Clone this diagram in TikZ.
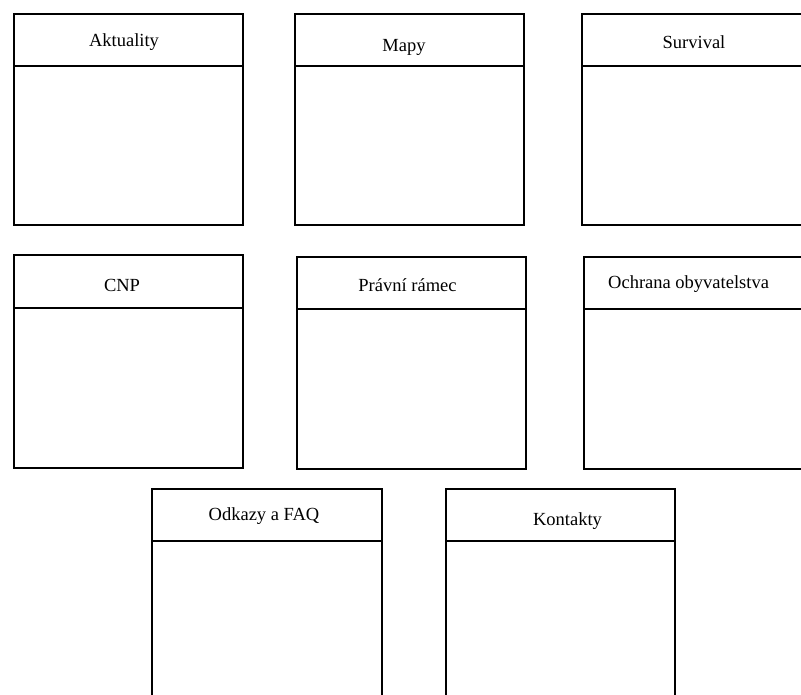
\documentclass[tikz,border=0pt]{standalone}
\usepackage{fontspec}
\setmainfont{Liberation Serif}
\begin{document}
\begin{tikzpicture}[x=1pt,y=-1pt,
  panel/.style={draw=black, line width=2.4pt, fill=white, rectangle,
    inner sep=0pt, outer sep=0pt, anchor=north west},
  title/.style={inner sep=0pt, font=\fontsize{18.5}{22}\selectfont, anchor=base},
  divider/.style={draw=black, line width=2.4pt}]
\useasboundingbox (0,0) rectangle (801,695);
\clip (0,0) rectangle (801,695);

% top row
\node[panel, minimum width=229pt, minimum height=211pt] (p1) at (14,14) {};
\node[panel, minimum width=229pt, minimum height=211pt] (p2) at (295,14) {};
\node[panel, minimum width=229pt, minimum height=211pt] (p3) at (582,14) {};
% middle row
\node[panel, minimum width=229pt, minimum height=213pt] (p4) at (14,255) {};
\node[panel, minimum width=229pt, minimum height=212pt] (p5) at (297,257) {};
\node[panel, minimum width=229pt, minimum height=212pt] (p6) at (584,257) {};
% bottom row
\node[panel, minimum width=230pt, minimum height=230pt] (p7) at (152,489) {};
\node[panel, minimum width=229pt, minimum height=230pt] (p8) at (446,489) {};

% header dividers
\foreach \p/\h in {p1/52, p2/52, p3/52, p4/53, p5/52, p6/52, p7/52, p8/52}
  \draw[divider] ([yshift=-\h pt]\p.north west) -- ([yshift=-\h pt]\p.north east);

% titles
\node[title] (t1) at (124,47) {Aktuality};
\node[title] (t2) at (404,52) {Mapy};
\node[title] (t3) at (694,49) {Survival};
\node[title] (t4) at (122,292) {CNP};
\node[title] (t5) at (407.5,292) {Právní rámec};
\node[title, anchor=base west] (t6) at (608,288) {Ochrana obyvatelstva};
\node[title] (t7) at (264,520) {Odkazy a FAQ};
\node[title] (t8) at (567.5,525) {Kontakty};
\end{tikzpicture}
\end{document}
